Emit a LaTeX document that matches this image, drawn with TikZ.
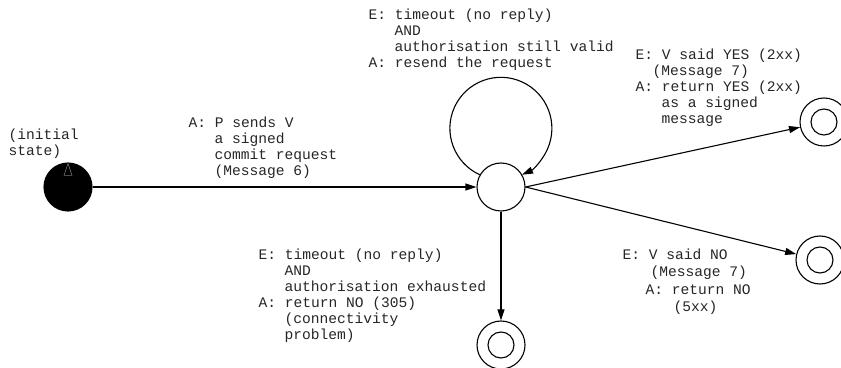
\documentclass[tikz,border=0pt]{standalone}
\usepackage{fontspec}
\setmonofont{Liberation Mono}
\usetikzlibrary{arrows.meta}
\tikzset
{
    state/.style      = {circle, draw=black, minimum size=48pt, inner sep=0pt},
    initstate/.style  = {state, fill=black},
    finalstate/.style = {state, path picture={\draw (path picture bounding box.center) circle (13pt);}},
    note/.style       = {anchor=north west, inner sep=0pt, align=left, text=black!85, font=\ttfamily\fontsize{14.6}{16}\selectfont}
}

\begin{document}
\begin{tikzpicture}[x=1pt, y=1pt, >={Triangle[length=11pt, width=7pt]}, line width=1.1pt]
    \useasboundingbox (0,0) rectangle (841,367);

    % states
    \node [initstate]  (init) at (68,180)  {};
    \node [state]      (wait) at (501,180) {};
    \node [finalstate] (yes)  at (824,245) {};
    \node [finalstate] (no)   at (820,107) {};
    \node [finalstate] (fail) at (501,22)  {};

    % marker inside the initial state
    \draw [black!55, line width=0.6pt] ([yshift=-1pt]init.north) -- ++(-4,-12) -- ++(8,0) -- cycle;

    % transitions
    \draw [->] (init) -- (wait);
    \draw [->] (wait.150) arc [start angle=245.5, end angle=-65.5, radius=51pt];
    \draw [->] (wait.east) -- (yes);
    \draw [->] (wait.east) -- (no);
    \draw [->] (wait) -- (fail);

    % labels
    \node [note] (initlbl) at (8,239) {(initial\\state)};
    \node [note] (sendlbl) at (188,251)
    {
        A: P sends V\\
        \hspace*{26pt}a signed\\
        \hspace*{26pt}commit request\\
        \hspace*{26pt}(Message 6)
    };
    \node [note] (looplbl) at (368,359)
    {
        E: timeout (no reply)\\
        \hspace*{26pt}AND\\
        \hspace*{26pt}authorisation still valid\\
        A: resend the request
    };
    \node [note] (yeslbl) at (635,319)
    {
        E: V said YES (2xx)\\
        \hspace*{17pt}(Message 7)\\
        A: return YES (2xx)\\
        \hspace*{26pt}as a signed\\
        \hspace*{26pt}message
    };
    \node [note, font=\ttfamily\fontsize{14.6}{17.5}\selectfont] (nolbl) at (622,119)
    {
        E: V said NO\\
        \hspace*{28pt}(Message 7)\\
        \hspace*{23pt}A: return NO\\
        \hspace*{51pt}(5xx)
    };
    \node [note] (faillbl) at (258,119)
    {
        E: timeout (no reply)\\
        \hspace*{26pt}AND\\
        \hspace*{26pt}authorisation exhausted\\
        A: return NO (305)\\
        \hspace*{26pt}(connectivity\\
        \hspace*{26pt}problem)
    };
\end{tikzpicture}
\end{document}
